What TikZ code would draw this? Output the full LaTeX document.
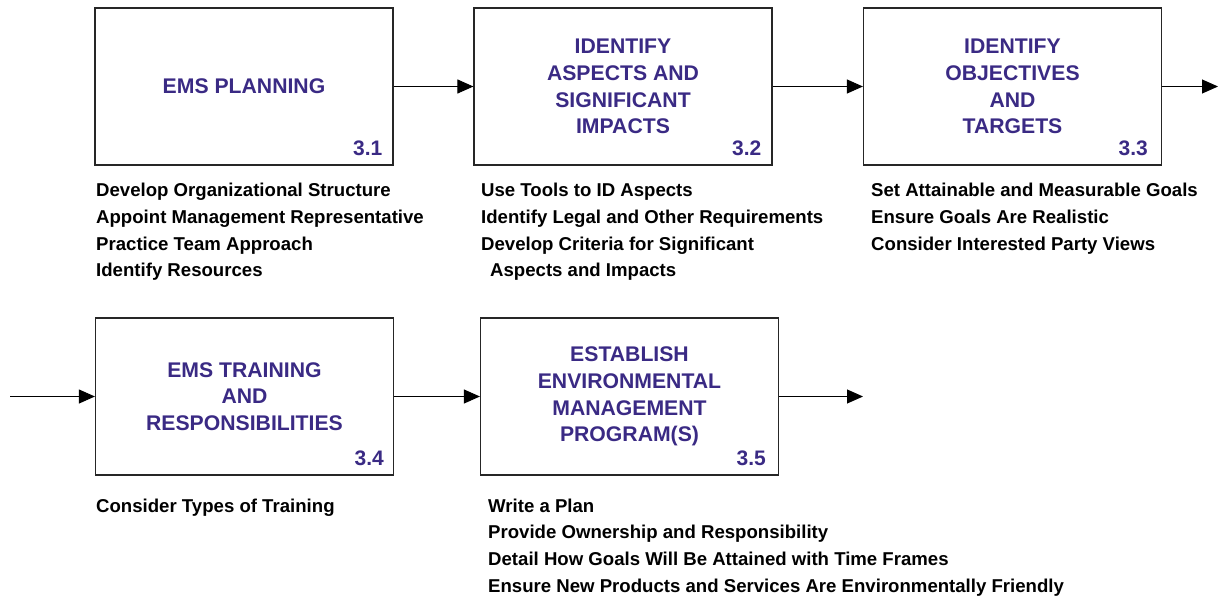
\documentclass[tikz,border=0pt]{standalone}
\usepackage{fontspec}
\setmainfont{Liberation Sans}
\usetikzlibrary{arrows.meta}
\definecolor{ttl}{RGB}{58,42,132}
\tikzset{
  box/.style={draw=black!85, line width=1.2pt, minimum width=298pt, minimum height=157pt, inner sep=0pt, align=center, text=ttl, font=\bfseries\fontsize{21.2}{26.8}\selectfont},
  num/.style={anchor=base east, inner sep=0pt, text=ttl, font=\bfseries\fontsize{21}{24}\selectfont},
  lst/.style={anchor=north west, inner sep=0pt, align=left, font=\bfseries\fontsize{18.6}{26.7}\selectfont},
  arr/.style={line width=1pt, -{Triangle[length=16pt,width=14pt]}}
}
\begin{document}
\begin{tikzpicture}[x=1pt,y=-1pt]
\useasboundingbox (0,0) rectangle (1220,599);
% row 1
\node[box] (b1) at (244,86.5) {EMS PLANNING};
\node[box] (b2) at (623,86.5) {IDENTIFY\\ASPECTS AND\\SIGNIFICANT\\IMPACTS};
\node[box] (b3) at (1012.5,86.5) {IDENTIFY\\OBJECTIVES\\AND\\TARGETS};
% row 2
\node[box] (b4) at (244.5,396.5) {EMS TRAINING\\AND\\RESPONSIBILITIES};
\node[box] (b5) at (629.5,396.5) {ESTABLISH\\ENVIRONMENTAL\\MANAGEMENT\\PROGRAM(S)};
% numbers
\node[num] (n1) at ([xshift=-11pt,yshift=10pt]b1.south east) {3.1};
\node[num] (n2) at ([xshift=-11pt,yshift=10pt]b2.south east) {3.2};
\node[num] (n3) at ([xshift=-14pt,yshift=10pt]b3.south east) {3.3};
\node[num] (n4) at ([xshift=-10pt,yshift=10pt]b4.south east) {3.4};
\node[num] (n5) at ([xshift=-13pt,yshift=10pt]b5.south east) {3.5};
% connectors
\coordinate (outR1) at (1218,0);
\coordinate (inL2) at (10,0);
\coordinate (outR2) at (863,0);
\draw[arr] (b1.east) -- (b2.west);
\draw[arr] (b2.east) -- (b3.west);
\draw[arr] (b3.east) -- (b3.east -| outR1);
\draw[arr] (b4.west -| inL2) -- (b4.west);
\draw[arr] (b4.east) -- (b5.west);
\draw[arr] (b5.east) -- (b5.east -| outR2);
% lists
\node[lst] (l1) at (96,183) {Develop Organizational Structure\\Appoint Management Representative\\Practice Team Approach\\Identify Resources};
\node[lst] (l2) at (481,183) {Use Tools to ID Aspects\\Identify Legal and Other Requirements\\Develop Criteria for Significant\\\hspace*{9pt}Aspects and Impacts};
\node[lst] (l3) at (871,183) {Set Attainable and Measurable Goals\\Ensure Goals Are Realistic\\Consider Interested Party Views};
\node[lst] (l4) at (96,498.5) {Consider Types of Training};
\node[lst] (l5) at (488,498.5) {Write a Plan\\Provide Ownership and Responsibility\\Detail How Goals Will Be Attained with Time Frames\\Ensure New Products and Services Are Environmentally Friendly};
\end{tikzpicture}
\end{document}
